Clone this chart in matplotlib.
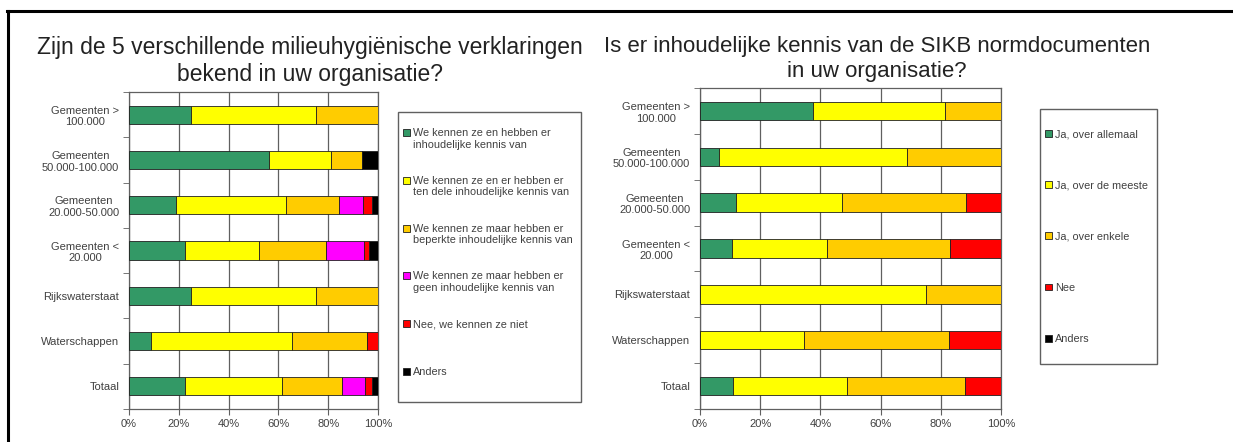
import numpy as np
import matplotlib
matplotlib.use("Agg")
import matplotlib.pyplot as plt
from matplotlib.lines import Line2D
from matplotlib.patches import Rectangle
from matplotlib.legend_handler import HandlerPatch

plt.rcParams['font.family'] = ['Liberation Sans', 'DejaVu Sans']

# categories (same for both charts, top to bottom)
categories = ["Gemeenten >\n100.000", "Gemeenten\n50.000-100.000", "Gemeenten\n20.000-50.000",
              "Gemeenten <\n20.000", "Rijkswaterstaat", "Waterschappen", "Totaal"]

# left chart: milieuhygienische verklaringen (percent)
left_labels = ["We kennen ze en hebben er\ninhoudelijke kennis van",
               "We kennen ze en er hebben er\nten dele inhoudelijke kennis van",
               "We kennen ze maar hebben er\nbeperkte inhoudelijke kennis van",
               "We kennen ze maar hebben er\ngeen inhoudelijke kennis van",
               "Nee, we kennen ze niet",
               "Anders"]
left_kennis = [25.0, 56.25, 18.7, 22.6, 25.0, 9.0, 22.6]
left_tendele = [50.0, 25.0, 44.3, 29.7, 50.0, 56.6, 38.7]
left_beperkt = [25.0, 12.5, 21.2, 26.8, 25.0, 29.8, 24.1]
left_geen = [0.0, 0.0, 9.6, 15.3, 0.0, 0.0, 9.4]
left_nee = [0.0, 0.0, 3.6, 2.1, 0.0, 4.6, 2.6]
left_anders = [0.0, 6.25, 2.6, 3.5, 0.0, 0.0, 2.6]

# right chart: SIKB normdocumenten (percent)
right_labels = ["Ja, over allemaal", "Ja, over de meeste", "Ja, over enkele", "Nee", "Anders"]
right_allemaal = [37.5, 6.25, 12.0, 10.5, 0.0, 0.0, 11.1]
right_meeste = [43.8, 62.5, 35.3, 31.7, 75.0, 34.7, 37.6]
right_enkele = [18.7, 31.25, 41.0, 41.0, 25.0, 48.0, 39.2]
right_nee = [0.0, 0.0, 11.7, 16.8, 0.0, 17.3, 12.1]
right_anders = [0.0, 0.0, 0.0, 0.0, 0.0, 0.0, 0.0]

green = '#339966'
yellow = '#FFFF00'
orange = '#FFCC00'
magenta = '#FF00FF'
red = '#FF0000'
black = '#000000'
grey_txt = '#404040'
W, H = 1233.0, 442.0
LEG_FS = 7.8


def stacked(ax, series, labels, colors):
    y = np.arange(len(categories))
    left = np.zeros(len(categories))
    handles = []
    for vals, lab, col in zip(series, labels, colors):
        vals = np.array(vals) / 100.0
        bars = ax.barh(y, vals, left=left, height=0.4, color=col, edgecolor='#202020',
                       linewidth=0.6, label=lab, zorder=3)
        handles.append(bars.patches[0])
        left = left + vals
    ax.set_xlim(0, 1)
    ax.set_ylim(len(categories) - 0.5, -0.5)
    ax.set_xticks(np.arange(0, 1.01, 0.2))
    ax.set_xticklabels(['0%', '20%', '40%', '60%', '80%', '100%'])
    ax.set_yticks(y)
    ax.set_yticklabels(categories)
    ax.set_yticks(np.arange(-0.5, len(categories), 1.0), minor=True)
    ax.tick_params(axis='y', which='major', length=0, labelsize=8, labelcolor=grey_txt, pad=7)
    ax.tick_params(axis='y', which='minor', length=4, color='#606060', direction='out')
    ax.tick_params(axis='x', length=4, color='#606060', labelsize=8, labelcolor=grey_txt)
    for lab in ax.get_yticklabels():
        lab.set_multialignment('center')
    ax.grid(axis='x', color='#606060', linewidth=0.9, zorder=0)
    for s in ax.spines.values():
        s.set_color('#606060')
        s.set_linewidth(0.9)
    return handles


def raised_patch(shift):
    # legend marker lifted to sit on the first line of a two-line label
    def make(legend, orig_handle, xdescent, ydescent, width, height, fontsize):
        return Rectangle((-xdescent, -ydescent + shift), width, height)
    return HandlerPatch(patch_func=make)


def framed_legend(ax, handles, labels, box, anchor, spacing, handler_map=None):
    x0, y0, x1, y1 = box
    # frame drawn separately so the padding can match the reference
    fig.add_artist(Rectangle((x0 / W, 1 - y1 / H), (x1 - x0) / W, (y1 - y0) / H,
                             transform=fig.transFigure, fill=False,
                             edgecolor='#606060', linewidth=1.0))
    return ax.legend(handles, labels, loc='upper left',
                     bbox_to_anchor=(anchor[0] / W, 1 - anchor[1] / H),
                     bbox_transform=fig.transFigure, frameon=False, handler_map=handler_map,
                     fontsize=LEG_FS, labelspacing=spacing, handlelength=0.6, handleheight=0.6,
                     handletextpad=0.35, borderpad=0, borderaxespad=0, labelcolor=grey_txt)


fig = plt.figure(figsize=(12.33, 4.42), dpi=100)

ax1 = fig.add_axes([129 / W, 1 - 409 / H, 249 / W, 317 / H])
h1 = stacked(ax1, [left_kennis, left_tendele, left_beperkt, left_geen, left_nee, left_anders],
             left_labels, [green, yellow, orange, magenta, red, black])
l1 = [t if '\n' in t else t + '\n ' for t in left_labels]
shift = 0.5 * 1.2 * LEG_FS
leg1 = framed_legend(ax1, h1, l1, (398, 112, 581, 402), (403, 128), 2.42,
                     handler_map={Rectangle: raised_patch(shift)})

ax2 = fig.add_axes([700 / W, 1 - 409 / H, 301 / W, 321 / H])
h2 = stacked(ax2, [right_allemaal, right_meeste, right_enkele, right_nee, right_anders],
             right_labels, [green, yellow, orange, red, black])
leg2 = framed_legend(ax2, h2, right_labels, (1040, 109, 1157, 364), (1045, 129), 3.81)

fig.text(310 / W, 1 - 61 / H,
         "Zijn de 5 verschillende milieuhygiënische verklaringen\nbekend in uw organisatie?",
         ha='center', va='center', fontsize=16.5, color='#222222', linespacing=1.2)
fig.text(877 / W, 1 - 59 / H,
         "Is er inhoudelijke kennis van de SIKB normdocumenten\nin uw organisatie?",
         ha='center', va='center', fontsize=16, color='#222222', linespacing=1.2)

# page frame lines (top and left)
fig.add_artist(Line2D([7 / W, 1.0], [1 - 10.5 / H, 1 - 10.5 / H], color='black', linewidth=2.2))
fig.add_artist(Line2D([7.5 / W, 7.5 / W], [0.0, 1 - 10.5 / H], color='black', linewidth=2.2))

fig.savefig('out.png', dpi=100)
